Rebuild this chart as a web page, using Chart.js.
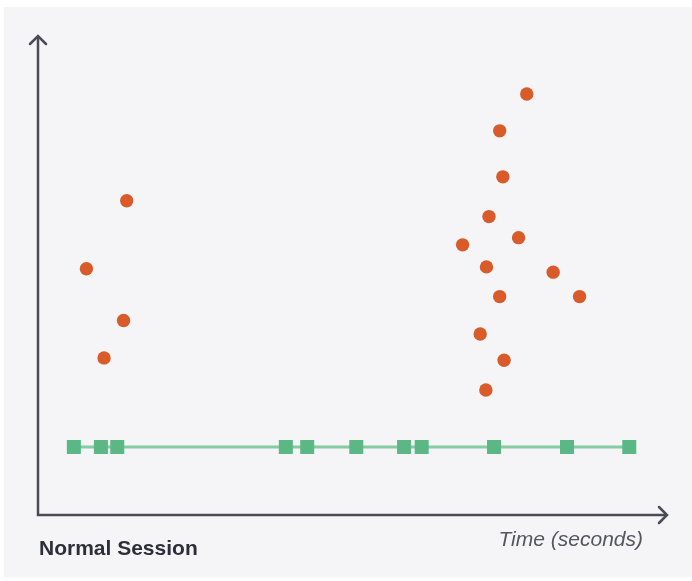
<!DOCTYPE html>
<html>
<head>
<meta charset="utf-8">
<script src="https://cdn.jsdelivr.net/npm/chart.js@4/dist/chart.umd.min.js"></script>
<style>
  html, body { margin: 0; padding: 0; background: #ffffff; }
  #wrap { position: relative; width: 692px; height: 581px; }
</style>
</head>
<body>
<div id="wrap"><canvas id="session" width="692" height="581"></canvas></div>
<script>
// Normal session: bursty events (orange) vs steady heartbeat (green)

// Event bursts: time (s) and magnitude
const burstTimes = [14.1, 7.7, 13.6, 10.5, 77.7, 73.4, 73.9, 71.7, 76.4, 67.5, 71.3, 81.9, 73.4, 86.1, 70.3, 74.1, 71.2];
const burstValues = [65.6, 51.4, 40.6, 32.8, 87.9, 80.2, 70.6, 62.3, 57.9, 56.4, 51.8, 50.7, 45.6, 45.6, 37.8, 32.3, 26.1];

// Heartbeat packets along the baseline
const beatTimes = [5.7, 10.0, 12.6, 39.4, 42.8, 50.6, 58.2, 61.0, 72.5, 84.1, 94.0];
const beatLevel = 14.2;

const title = 'Normal Session';
const xLabel = 'Time (seconds)';

const AXIS_COLOR = '#4b4b57';
const ORANGE = '#d95b2a';
const GREEN = '#5bb885';
const GREEN_LINE = '#86cca3';

// Background panel, arrowed axes and captions
const decorPlugin = {
  id: 'decor',
  beforeDraw(chart) {
    const ctx = chart.ctx;
    ctx.save();
    ctx.fillStyle = '#f5f5f7';
    ctx.fillRect(4, 7, 688, 570);
    ctx.restore();
  },
  beforeDatasetsDraw(chart) {
    const { ctx, chartArea } = chart;
    const { left, right, top, bottom } = chartArea;
    ctx.save();
    ctx.strokeStyle = AXIS_COLOR;
    ctx.lineWidth = 2.5;
    ctx.lineCap = 'butt';
    ctx.lineJoin = 'miter';
    ctx.beginPath();
    ctx.moveTo(left, top + 1);
    ctx.lineTo(left, bottom);
    ctx.lineTo(right - 1, bottom);
    ctx.stroke();

    // arrow heads
    const a = 8;
    ctx.lineCap = 'round';
    ctx.beginPath();
    ctx.moveTo(left - a, top + a);
    ctx.lineTo(left, top);
    ctx.lineTo(left + a, top + a);
    ctx.moveTo(right - a, bottom - a);
    ctx.lineTo(right, bottom);
    ctx.lineTo(right - a, bottom + a);
    ctx.stroke();

    // captions
    ctx.fillStyle = '#2e2e3a';
    ctx.font = 'bold 21px "Liberation Sans", Arial, sans-serif';
    ctx.textAlign = 'left';
    ctx.textBaseline = 'alphabetic';
    ctx.fillText(title, left + 1, 555);

    ctx.fillStyle = '#55555f';
    ctx.font = 'italic 21px "Liberation Sans", Arial, sans-serif';
    ctx.textAlign = 'right';
    ctx.fillText(xLabel, 643, 546);
    ctx.restore();
  }
};

const ctx = document.getElementById('session').getContext('2d');
new Chart(ctx, {
  type: 'scatter',
  data: {
    datasets: [
      {
        label: 'Heartbeat',
        data: beatTimes.map(t => ({ x: t, y: beatLevel })),
        showLine: true,
        borderColor: GREEN_LINE,
        borderWidth: 3,
        pointStyle: 'rect',
        pointRadius: 9.9,
        pointBackgroundColor: GREEN,
        pointBorderWidth: 0,
        clip: false,
        order: 2
      },
      {
        label: 'Events',
        data: burstTimes.map((t, i) => ({ x: t, y: burstValues[i] })),
        pointStyle: 'circle',
        pointRadius: 6.7,
        pointBackgroundColor: ORANGE,
        pointBorderWidth: 0,
        clip: false,
        order: 1
      }
    ]
  },
  options: {
    responsive: false,
    animation: false,
    layout: {
      padding: { left: 38, right: 25, top: 36, bottom: 66 }
    },
    scales: {
      x: { type: 'linear', min: 0, max: 100, display: false },
      y: { type: 'linear', min: 0, max: 100, display: false }
    },
    plugins: {
      legend: { display: false },
      tooltip: { enabled: false }
    }
  },
  plugins: [decorPlugin]
});
</script>
</body>
</html>
